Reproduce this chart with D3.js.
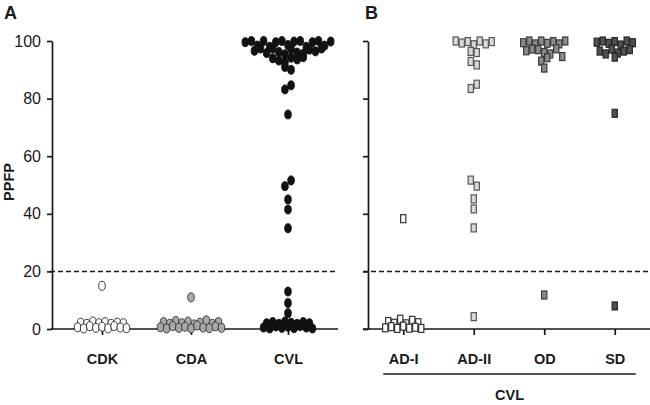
<!DOCTYPE html>
<html><head><meta charset="utf-8">
<script src="https://cdn.jsdelivr.net/npm/d3@7"></script>
<style>body{margin:0;background:#fff}svg{display:block}text{font-family:Arial,"Liberation Sans",sans-serif;fill:#1a1a1a}</style>
</head><body>
<script>
// ---- data ----
const yTicks = [0, 20, 40, 60, 80, 100];
const cutoff = 20;
const yLabel = "PPFP";
const panelLabels = ["A", "B"];
const groupLabel = "CVL";
const catsA = ["CDK", "CDA", "CVL"];
const catsB = ["AD-I", "AD-II", "OD", "SD"];

const cdk = [15,
  2.2, 1.8, 2.6, 2.0, 2.4, 1.8, 2.2, 2.0,
  0.6, 0.2, 1.0, 0.4, 0.8, 0.2, 1.0, 0.5, 0.3];
const cda = [11,
  2.4, 1.8, 2.8, 2.0, 2.6, 1.6, 2.2, 3.0, 1.8, 2.4,
  0.6, 0.2, 1.0, 0.4, 0.8, 0.2, 1.2, 0.5, 0.3, 0.9, 0.4];
const cvl = [
  99.6, 100, 98.4, 100, 98.0, 99.6, 100, 98.6, 99.8, 100, 98.0, 99.6, 100, 98.4, 99.8,
  96.6, 97.4, 95.8, 97.4, 96.2, 95.4, 97.2, 96.0, 95.6, 97.0, 96.4, 97.4,
  94.0, 93.2, 92.6, 94.2, 93.6, 94.4,
  91.0, 90.0,
  83.2, 84.6,
  74.5,
  49.6, 51.6,
  45, 41.5, 35,
  13, 9, 5.5,
  2.0, 2.4, 1.8, 2.6, 2.2, 1.8, 2.4, 2.0,
  0.5, 0.2, 0.9, 0.4, 0.8, 0.3, 1.0, 0.5, 0.2];
const adI = [38.3,
  2.6, 2.0, 3.4, 1.8, 3.0, 2.2,
  0.4, 0.8, 0.2, 1.0, 0.3, 0.6, 0.2];
const adII = [100, 99.3, 99.8, 98.7, 100, 99.0, 99.8,
  96.4, 96.0,
  92.9, 91.7,
  83.5, 85.0,
  51.7, 49.6,
  45.2, 41.7, 35.1, 4.3];
const od = [99.4, 100, 99.0, 100, 99.2, 99.8, 99.0, 100,
  96.6, 97.2, 97.0, 96.0, 95.5, 97.3,
  94.6, 93.0, 94.2,
  90.6, 11.8];
const sd = [99.6, 100, 99.2, 99.8, 98.6, 100, 99.4,
  96.5, 95.5, 97.2, 95.8, 96.5, 97.0,
  94.4, 74.9, 8];

// ---- layout ----
const W = 650, H = 405;
const svg = d3.select("body").append("svg").attr("width", W).attr("height", H);
const y = d3.scaleLinear().domain([0, 100]).range([329, 41]);
const axA = 52, axB = 368, xEndA = 338, xEndB = 650;
const xA = d3.scaleOrdinal().domain(catsA).range([102, 191, 288]);
const xB = d3.scalePoint().domain(catsB).range([axB, xEndB]).padding(0.5);
const ink = "#1a1a1a";

// column-scatter layout: points of similar value spread sideways, centred on the column
function swarm(vals, sp, bin) {
  const out = vals.map(v => ({ v, dx: 0 }));
  const groups = d3.group(out, d => Math.round(d.v / bin));
  for (const g of groups.values()) {
    g.forEach((d, k) => { d.dx = (k - (g.length - 1) / 2) * sp; });
  }
  return out;
}

// y axes
function yAxis(x0, labels) {
  const g = svg.append("g").attr("transform", `translate(${x0},0)`)
    .call(d3.axisLeft(y).tickValues(yTicks).tickSize(5).tickSizeOuter(0).tickPadding(6)
      .tickFormat(labels ? d3.format("d") : ""));
  g.selectAll("path,line").attr("stroke", ink).attr("stroke-width", 1.7);
  g.selectAll("text").attr("font-size", 16).attr("fill", ink).style("font-family", "Arial, 'Liberation Sans', sans-serif");
  return g;
}
yAxis(axA, true);
yAxis(axB, false);

// x baselines
svg.append("line").attr("x1", axA - 1).attr("x2", xEndA).attr("y1", y(0)).attr("y2", y(0))
  .attr("stroke", ink).attr("stroke-width", 1.7);
svg.append("line").attr("x1", axB - 5).attr("x2", xEndB).attr("y1", y(0)).attr("y2", y(0))
  .attr("stroke", ink).attr("stroke-width", 1.7);

// x axes (ticks + labels)
function xAxis(scale) {
  const g = svg.append("g").attr("transform", `translate(0,${y(0)})`)
    .call(d3.axisBottom(scale).tickSize(6).tickSizeOuter(0));
  g.select(".domain").remove();
  g.selectAll("line").attr("stroke", ink).attr("stroke-width", 1.7);
  g.selectAll("text").attr("y", 35).attr("dy", 0).attr("font-size", 14.5).attr("font-weight", "bold")
    .attr("fill", ink).style("font-family", "Arial, 'Liberation Sans', sans-serif");
}
xAxis(xA);
xAxis(xB);

// cut-off lines
[[axA - 2, xEndA], [axB - 5, xEndB]].forEach(([a, b]) => {
  svg.append("line").attr("x1", a).attr("x2", b).attr("y1", y(cutoff)).attr("y2", y(cutoff))
    .attr("stroke", ink).attr("stroke-width", 1.5).attr("stroke-dasharray", "5,3");
});

// group bracket
svg.append("line").attr("x1", xB("AD-I") - 20).attr("x2", xB("SD") + 21)
  .attr("y1", 374).attr("y2", 374).attr("stroke", ink).attr("stroke-width", 1.3);
svg.append("text").attr("x", (xB("AD-I") - 20 + xB("SD") + 21) / 2).attr("y", 400)
  .attr("text-anchor", "middle").attr("font-size", 14.5).attr("font-weight", "bold").text(groupLabel);

// labels
svg.append("text").attr("transform", "translate(13.5,182) rotate(-90)").attr("text-anchor", "middle")
  .attr("font-size", 14.5).attr("font-weight", "bold").text(yLabel);
svg.append("text").attr("x", 4).attr("y", 19).attr("font-size", 18).attr("font-weight", "bold").text(panelLabels[0]);
svg.append("text").attr("x", 365).attr("y", 19).attr("font-size", 18).attr("font-weight", "bold").text(panelLabels[1]);

// panel A: ellipses
const seriesA = [
  { cat: "CDK", vals: cdk, fill: "#ffffff", stroke: "#222" },
  { cat: "CDA", vals: cda, fill: "#a8a8a8", stroke: "#333" },
  { cat: "CVL", vals: cvl, fill: "#111111", stroke: "#111" }
];
seriesA.forEach(s => {
  svg.append("g").selectAll("ellipse").data(swarm(s.vals, 6.1, 3)).join("ellipse")
    .attr("cx", d => xA(s.cat) + d.dx).attr("cy", d => y(d.v))
    .attr("rx", 3.3).attr("ry", 4.5)
    .attr("fill", s.fill).attr("stroke", s.stroke).attr("stroke-width", 0.9);
});

// panel B: rectangles
const seriesB = [
  { cat: "AD-I", vals: adI, fill: "#ffffff", stroke: "#333" },
  { cat: "AD-II", vals: adII, fill: "#d9d9d9", stroke: "#555" },
  { cat: "OD", vals: od, fill: "#8a8a8a", stroke: "#3a3a3a" },
  { cat: "SD", vals: sd, fill: "#505050", stroke: "#262626" }
];
const rw = 5.2, rh = 8;
seriesB.forEach(s => {
  svg.append("g").selectAll("rect").data(swarm(s.vals, 6, 3)).join("rect")
    .attr("x", d => xB(s.cat) + d.dx - rw / 2).attr("y", d => y(d.v) - rh / 2)
    .attr("width", rw).attr("height", rh)
    .attr("fill", s.fill).attr("stroke", s.stroke).attr("stroke-width", 1.2);
});
</script>
</body></html>
